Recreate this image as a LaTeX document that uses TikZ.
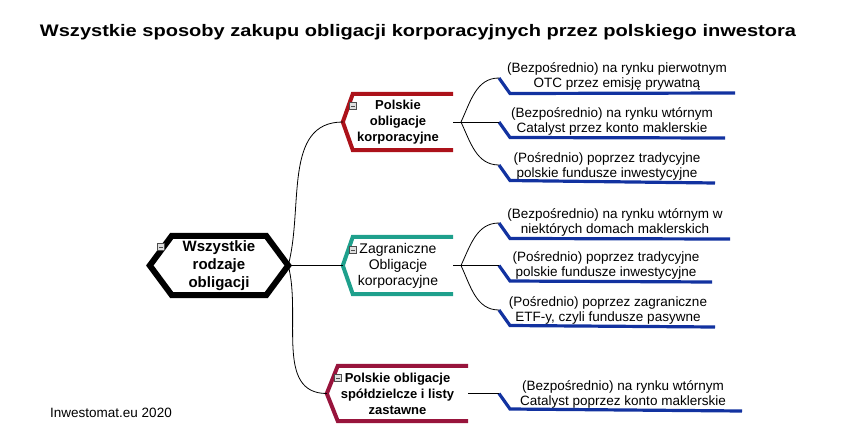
\documentclass[tikz,border=0pt]{standalone}
\usepackage{fontspec}
\setmainfont{Liberation Sans}
\usetikzlibrary{positioning}

\definecolor{polred}{RGB}{172,18,26}
\definecolor{coopred}{RGB}{152,20,60}
\definecolor{zagteal}{RGB}{30,160,140}
\definecolor{wayblue}{RGB}{18,50,160}

\tikzset{
  branch/.style={minimum height=56pt, align=center, inner sep=0pt,
    font=\fontsize{13}{16}\selectfont\bfseries},
  way/.style={anchor=south, align=center, inner xsep=0pt, inner ysep=2.5pt,
    font=\fontsize{13.5}{15}\selectfont},
  link/.style={draw=black, line width=0.8pt},
  rim/.style={line width=4pt, line join=miter},
  under/.style={draw=wayblue, line width=3.2pt},
  tog/.style={draw=gray!60!black, fill=gray!25, minimum size=7pt, inner sep=0pt,
    path picture={\draw[line width=0.9pt] ([xshift=1.5pt]path picture bounding box.west)
      -- ([xshift=-1.5pt]path picture bounding box.east);}}
}

\begin{document}
\begin{tikzpicture}[x=1pt,y=-1pt]
\useasboundingbox (0,0) rectangle (849,442);

\node[font=\fontsize{16.7}{20}\selectfont\bfseries, xscale=1.2, transform shape] (title) at (418,32)
  {Wszystkie sposoby zakupu obligacji korporacyjnych przez polskiego inwestora};

% root
\node[minimum width=138pt, minimum height=59pt, align=center, inner sep=0pt,
  font=\fontsize{15}{18}\selectfont\bfseries] (root) at (219,265.5) {Wszystkie\\rodzaje\\obligacji};
\draw[line width=6pt, line join=miter] ([xshift=22pt]root.north west) -- ([xshift=-22pt]root.north east)
  -- (root.east) -- ([xshift=-22pt]root.south east) -- ([xshift=22pt]root.south west) -- (root.west) -- cycle;
\node[tog] (root-tog) at (161,247) {};

% branches
\node[branch, minimum width=110pt] (pk) at (398,122) {Polskie\\obligacje\\korporacyjne};
\draw[rim, polred] (pk.north east) -- ([xshift=10pt]pk.north west) -- (pk.west)
  -- ([xshift=10pt]pk.south west) -- (pk.south east);
\node[tog] (pk-tog) at (353,106) {};

\node[branch, minimum width=110pt, minimum height=57pt, font=\fontsize{14}{16}\selectfont] (zg) at (398,265.5)
  {Zagraniczne\\Obligacje\\korporacyjne};
\draw[rim, zagteal] (zg.north east) -- ([xshift=10pt]zg.north west) -- (zg.west)
  -- ([xshift=10pt]zg.south west) -- (zg.south east);
\node[tog] (zg-tog) at (353,250) {};

\node[branch, minimum width=141pt, minimum height=55pt] (ps) at (397.5,393.5)
  {Polskie obligacje\\spółdzielcze i listy\\zastawne};
\draw[rim, coopred] (ps.north east) -- ([xshift=11pt]ps.north west) -- (ps.west)
  -- ([xshift=11pt]ps.south west) -- (ps.south east);
\node[tog] (ps-tog) at (338,378) {};

\draw[link] (root.east) to[out=75,in=180] (pk.west);
\draw[link] (root.east) -- (zg.west);
\draw[link] (root.east) to[out=-75,in=180] (ps.west);

% ways to buy
\coordinate (pk1-in) at (499,78);   \coordinate (pk1-out) at (735,93);
\coordinate (pk2-in) at (499,122);  \coordinate (pk2-out) at (725,138);
\coordinate (pk3-in) at (499,165);  \coordinate (pk3-out) at (715,183);
\coordinate (zg1-in) at (499,223);  \coordinate (zg1-out) at (730,239);
\coordinate (zg2-in) at (499,265.5);\coordinate (zg2-out) at (712,282);
\coordinate (zg3-in) at (499,310);  \coordinate (zg3-out) at (715,327);
\coordinate (ps1-in) at (499,393.5);\coordinate (ps1-out) at (742,411);

\node[way] (pk1) at (617,93) {(Bezpośrednio) na rynku pierwotnym\\OTC przez emisję prywatną};
\node[way] (pk2) at (612,138) {(Bezpośrednio) na rynku wtórnym\\Catalyst przez konto maklerskie};
\node[way] (pk3) at (607,183) {(Pośrednio) poprzez tradycyjne\\polskie fundusze inwestycyjne};
\node[way] (zg1) at (615,239) {(Bezpośrednio) na rynku wtórnym w\\niektórych domach maklerskich};
\node[way] (zg2) at (606,282) {(Pośrednio) poprzez tradycyjne\\polskie fundusze inwestycyjne};
\node[way] (zg3) at (608,327) {(Pośrednio) poprzez zagraniczne\\ETF-y, czyli fundusze pasywne};
\node[way] (ps1) at (623,411) {(Bezpośrednio) na rynku wtórnym\\Catalyst poprzez konto maklerskie};

\foreach \w in {pk1,pk2,pk3,zg1,zg2,zg3,ps1}
  \draw[under] (\w-in) -- ++(11,15.5) -- (\w-out);

\coordinate (pk-fork) at (461,122);
\coordinate (zg-fork) at (461,265.5);
\draw[link] (pk.east) -- (pk-fork);
\draw[link] (zg.east) -- (zg-fork);
\draw[link] (pk-fork) to[out=65,in=180] (pk1-in);
\draw[link] (pk-fork) -- (pk2-in);
\draw[link] (pk-fork) to[out=-65,in=180] (pk3-in);
\draw[link] (zg-fork) to[out=65,in=180] (zg1-in);
\draw[link] (zg-fork) -- (zg2-in);
\draw[link] (zg-fork) to[out=-65,in=180] (zg3-in);
\draw[link] (ps.east) -- (ps1-in);

\node[font=\fontsize{13.5}{15}\selectfont] (credit) at (111,413) {Inwestomat.eu 2020};
\end{tikzpicture}
\end{document}
